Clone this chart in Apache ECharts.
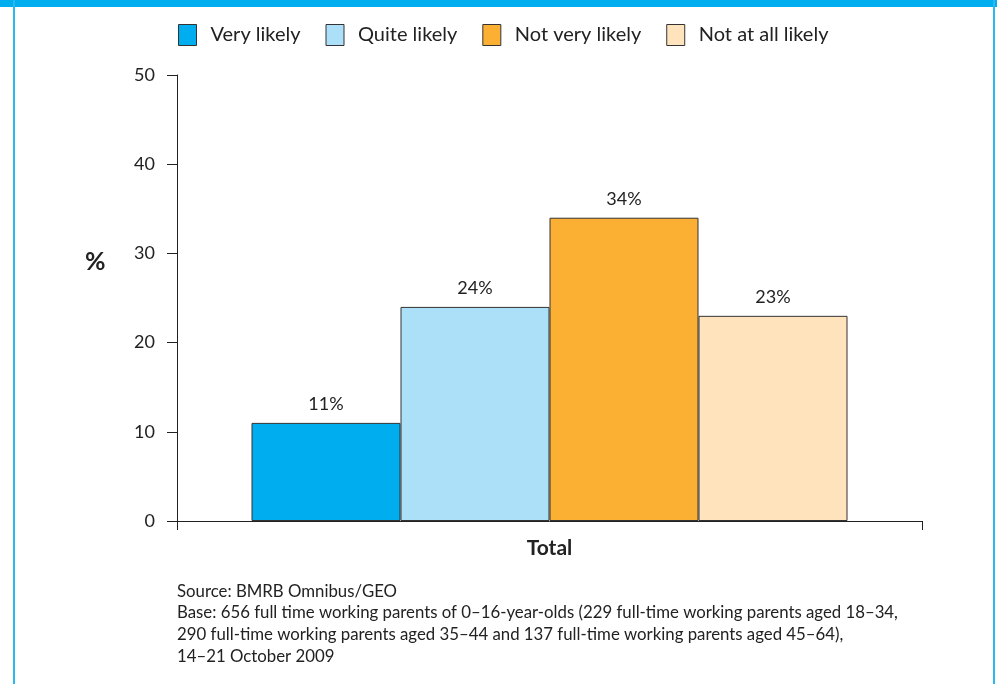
<!DOCTYPE html>
<html>
<head>
<meta charset="utf-8">
<script src="https://cdn.jsdelivr.net/npm/echarts@6/dist/echarts.min.js"></script>
<style>
html,body{margin:0;padding:0;background:#fff;}
#chart{width:997px;height:684px;}
</style>
</head>
<body>
<div id="chart"></div>
<script>
var categories = ['Total'];
var seriesNames = ['Very likely', 'Quite likely', 'Not very likely', 'Not at all likely'];
var seriesValues = [[11], [24], [34], [23]];
var seriesColors = ['#00AEEF', '#ACE0F9', '#FBB034', '#FFE3BD'];
var yTicks = [0, 10, 20, 30, 40, 50];
var sourceLines = [
  'Source: BMRB Omnibus/GEO',
  'Base: 656 full time working parents of 0\u201316-year-olds (229 full-time working parents aged 18\u201334,',
  '290 full-time working parents aged 35\u201344 and 137 full-time working parents aged 45\u201364),',
  '14\u201321 October 2009'
];

var FONT = 'Lato, "Open Sans", sans-serif';
var chart = echarts.init(document.getElementById('chart'));

var series = seriesNames.map(function (name, i) {
  return {
    name: name,
    type: 'bar',
    data: seriesValues[i],
    barGap: '0%',
    barCategoryGap: '20%',
    itemStyle: { color: seriesColors[i], borderColor: '#333', borderWidth: 1 },
    label: {
      show: true, position: 'top', distance: 10,
      formatter: '{c}%', color: '#222', fontSize: 18, fontFamily: FONT
    }
  };
});

var graphics = [
  { type: 'rect', shape: { x: 0, y: 0, width: 997, height: 7 }, style: { fill: '#00AEEF' } },
  { type: 'rect', shape: { x: 13, y: 0, width: 2, height: 684 }, style: { fill: '#29B9F0' } },
  { type: 'rect', shape: { x: 993, y: 0, width: 2, height: 684 }, style: { fill: '#29B9F0' } },
  { type: 'text', left: 85, top: 249, style: { text: '%', fill: '#222', font: 'bold 25px ' + FONT } }
];
var lineYs = [593, 614, 636, 658];
sourceLines.forEach(function (t, i) {
  graphics.push({
    type: 'text', left: 177, top: lineYs[i] - 10,
    style: { text: t, fill: '#222', font: '16.8px ' + FONT }
  });
});

chart.setOption({
  animation: false,
  backgroundColor: '#fff',
  legend: {
    top: 19, left: 173,
    itemWidth: 18, itemHeight: 21, itemGap: 25,
    icon: 'rect',
    itemStyle: { borderColor: '#333', borderWidth: 1 },
    textStyle: { fontSize: 20, color: '#222', fontFamily: FONT, padding: [0, 0, 0, 9] },
    data: seriesNames
  },
  grid: { left: 177, right: 75, top: 75, bottom: 163, containLabel: false },
  xAxis: {
    type: 'category',
    data: categories,
    axisLine: { show: true, lineStyle: { color: '#222', width: 1 } },
    axisTick: { show: true, length: 9, lineStyle: { color: '#222' } },
    axisLabel: { margin: 17, fontSize: 21, fontWeight: 'bold', color: '#222', fontFamily: FONT }
  },
  yAxis: {
    type: 'value',
    min: yTicks[0], max: yTicks[yTicks.length - 1], interval: 10,
    axisLine: { show: true, lineStyle: { color: '#222', width: 1 } },
    axisTick: { show: true, length: 10, lineStyle: { color: '#222' } },
    axisLabel: { margin: 22, fontSize: 18, color: '#222', fontFamily: FONT },
    splitLine: { show: false }
  },
  series: series,
  graphic: graphics
});
</script>
</body>
</html>
